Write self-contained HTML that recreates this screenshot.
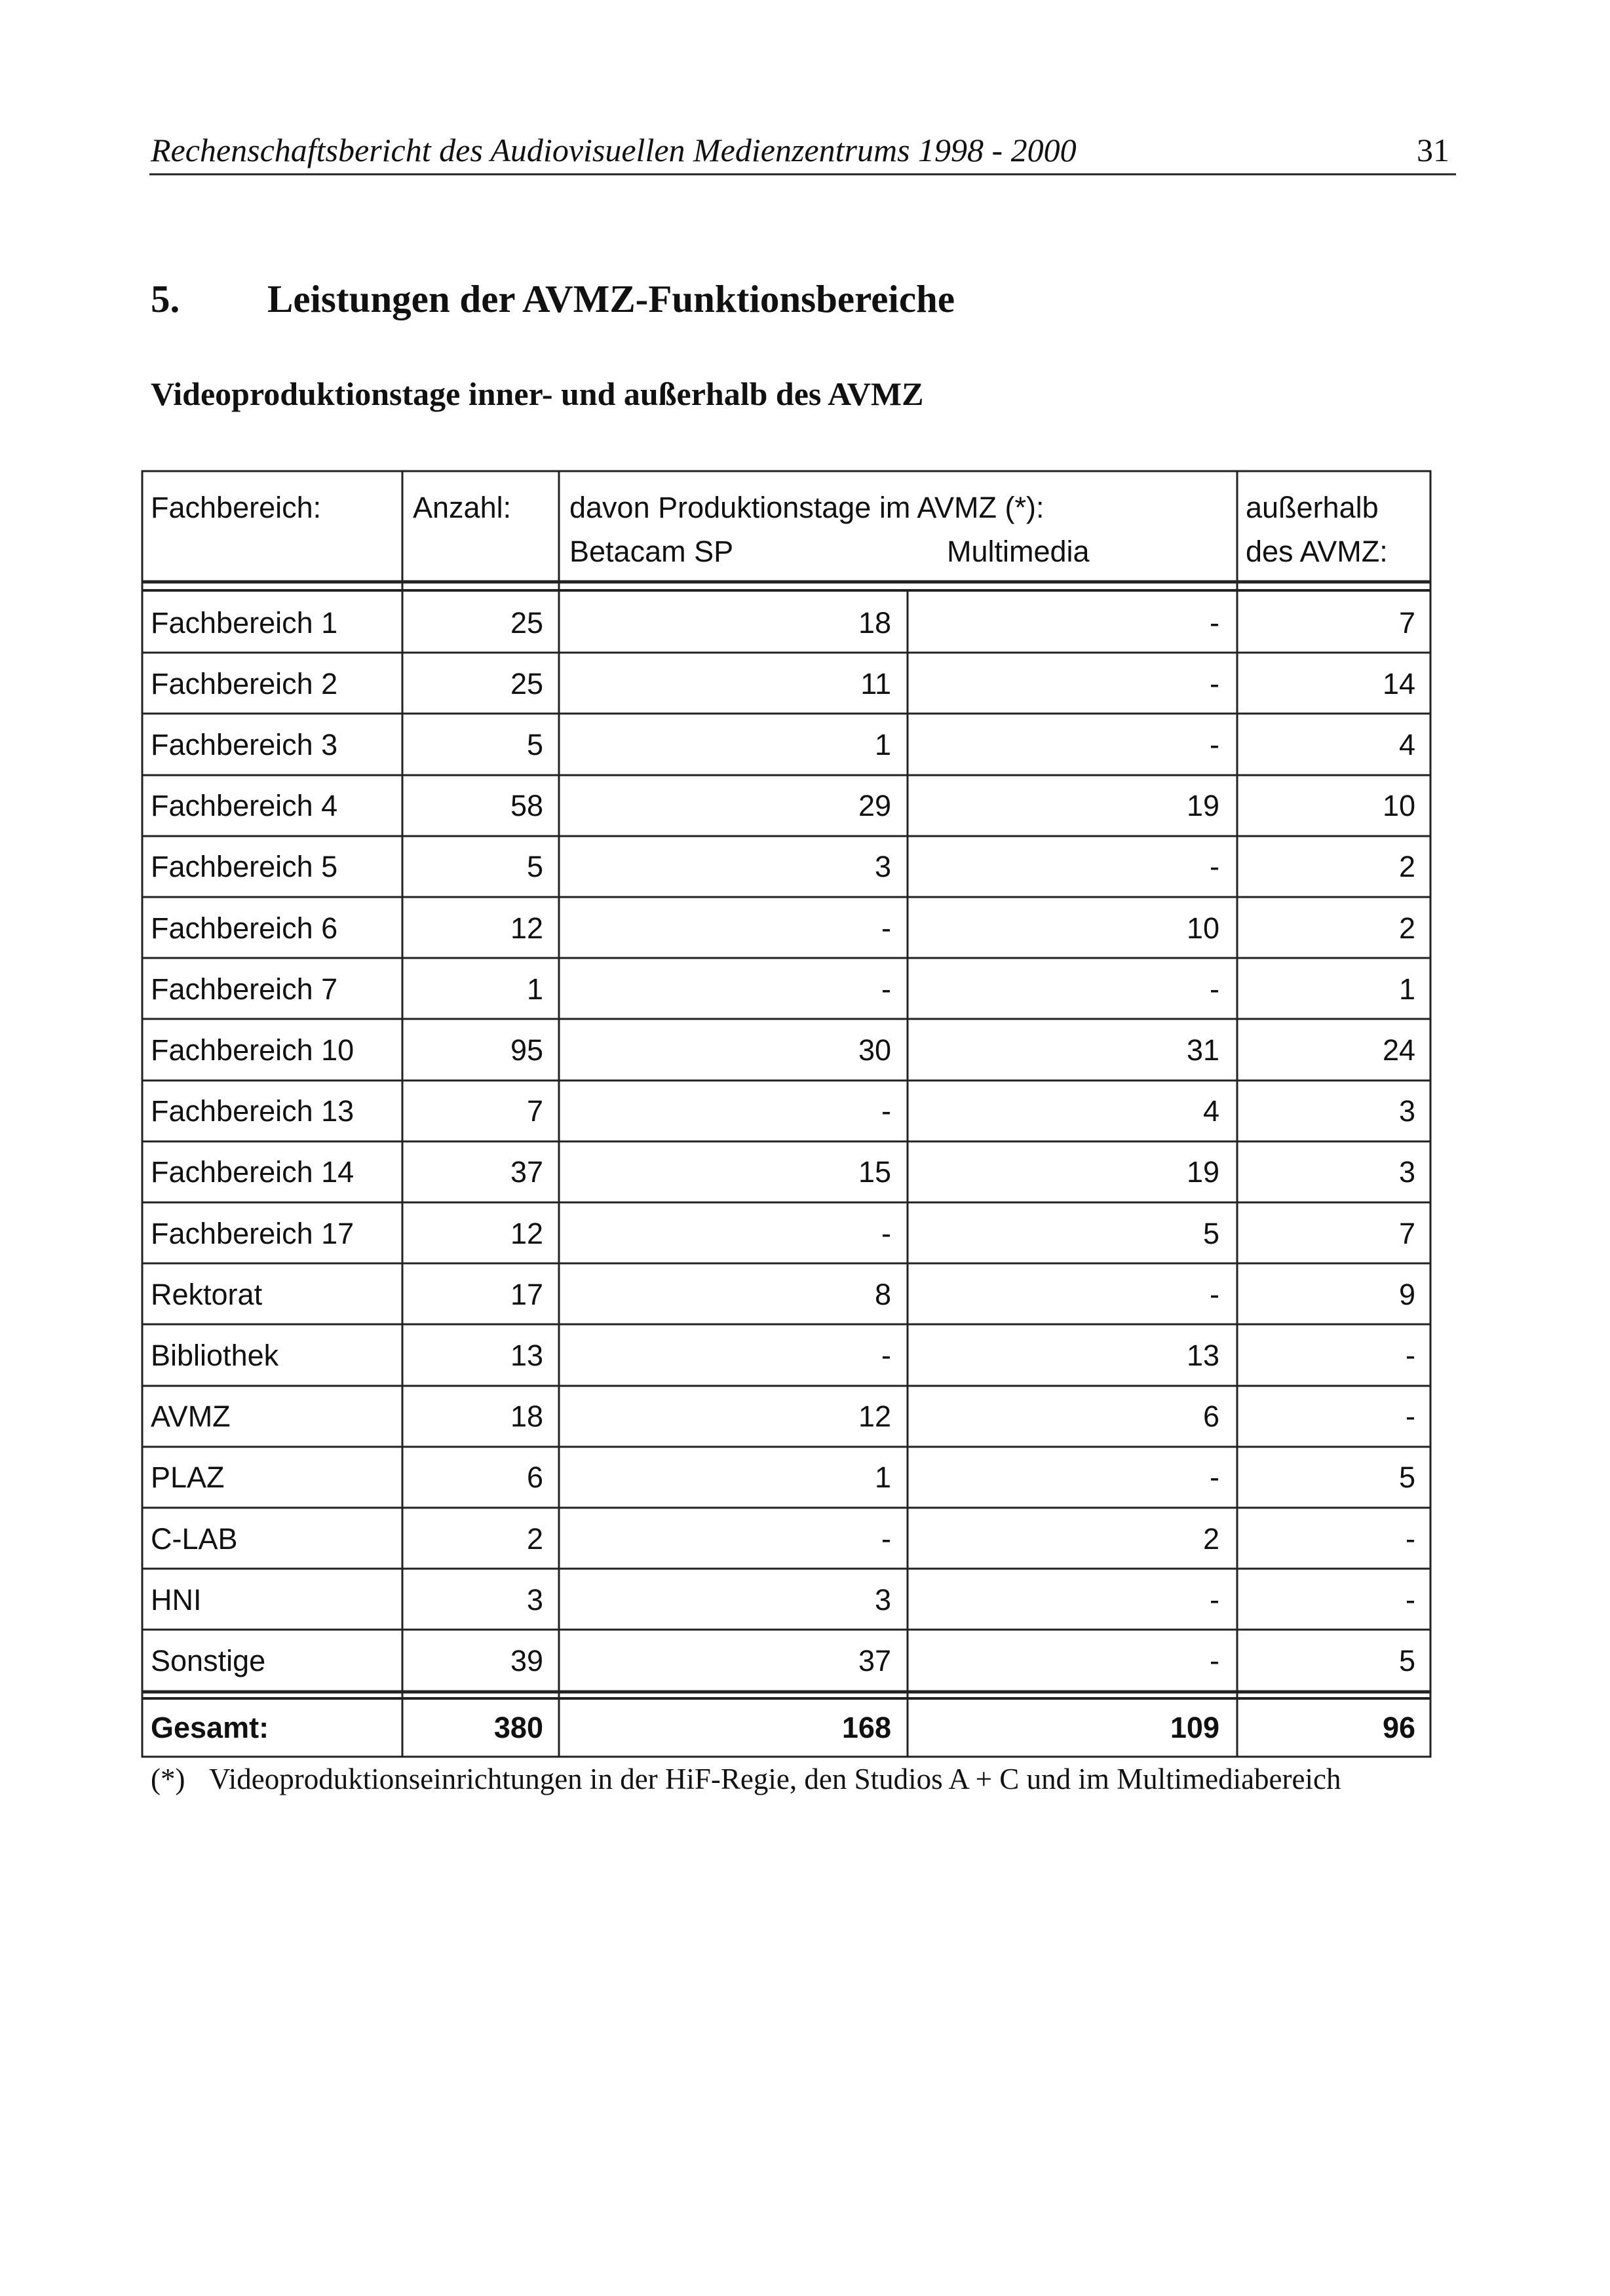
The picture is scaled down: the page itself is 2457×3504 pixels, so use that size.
<!DOCTYPE html>
<html><head><meta charset="utf-8"><style>
html,body{margin:0;padding:0;background:#fff}
svg{display:block}
</style></head><body>
<svg width="2457" height="3504" viewBox="0 0 2457 3504" xmlns="http://www.w3.org/2000/svg">
<rect width="2457" height="3504" fill="#fff"/>
<g font-family="'Liberation Serif',serif" fill="#111">
<text x="230" y="246" font-size="50" font-style="italic">Rechenschaftsbericht des Audiovisuellen Medienzentrums 1998 - 2000</text>
<text x="2212" y="246" font-size="50" text-anchor="end">31</text>
<text x="230" y="476" font-size="59" font-weight="bold">5.</text>
<text x="408" y="476" font-size="59" font-weight="bold">Leistungen der AVMZ-Funktionsbereiche</text>
<text x="230" y="618" font-size="50" font-weight="bold">Videoproduktionstage inner- und außerhalb des AVMZ</text>
<text x="230" y="2730" font-size="45">(*)</text>
<text x="319" y="2730" font-size="45">Videoproduktionseinrichtungen in der HiF-Regie, den Studios A + C und im Multimediabereich</text>
</g>
<line x1="228" y1="266" x2="2222" y2="266" stroke="#222" stroke-width="3"/>
<g stroke="#222" stroke-width="3" fill="none">
<rect x="217" y="719" width="1966" height="1962"/>
<line x1="614" y1="719" x2="614" y2="2681"/>
<line x1="853" y1="719" x2="853" y2="2681"/>
<line x1="1888" y1="719" x2="1888" y2="2681"/>
<line x1="1385" y1="903" x2="1385" y2="2681"/>
<line x1="217" y1="888" x2="2183" y2="888" stroke-width="5"/>
<line x1="217" y1="901" x2="2183" y2="901" stroke-width="4"/>
<line x1="217" y1="2582" x2="2183" y2="2582" stroke-width="5"/>
<line x1="217" y1="2592" x2="2183" y2="2592" stroke-width="4"/>
<path d="M217 996H2183M217 1089H2183M217 1183H2183M217 1276H2183M217 1369H2183M217 1462H2183M217 1555H2183M217 1649H2183M217 1742H2183M217 1835H2183M217 1928H2183M217 2021H2183M217 2115H2183M217 2208H2183M217 2301H2183M217 2394H2183M217 2487H2183"/>
</g>
<g font-family="'Liberation Sans',sans-serif" font-size="45" fill="#111">
<text x="230" y="790">Fachbereich:</text>
<text x="630" y="790">Anzahl:</text>
<text x="869" y="790">davon Produktionstage im AVMZ (*):</text>
<text x="869" y="857">Betacam SP</text>
<text x="1445" y="857">Multimedia</text>
<text x="1901" y="790">außerhalb</text>
<text x="1901" y="857">des AVMZ:</text>

<text x="230" y="966">Fachbereich 1</text>
<text x="230" y="1059">Fachbereich 2</text>
<text x="230" y="1152">Fachbereich 3</text>
<text x="230" y="1245">Fachbereich 4</text>
<text x="230" y="1338">Fachbereich 5</text>
<text x="230" y="1432">Fachbereich 6</text>
<text x="230" y="1525">Fachbereich 7</text>
<text x="230" y="1618">Fachbereich 10</text>
<text x="230" y="1711">Fachbereich 13</text>
<text x="230" y="1804">Fachbereich 14</text>
<text x="230" y="1898">Fachbereich 17</text>
<text x="230" y="1991">Rektorat</text>
<text x="230" y="2084">Bibliothek</text>
<text x="230" y="2177">AVMZ</text>
<text x="230" y="2270">PLAZ</text>
<text x="230" y="2364">C-LAB</text>
<text x="230" y="2457">HNI</text>
<text x="230" y="2550">Sonstige</text>
<text x="230" y="2652" font-weight="bold">Gesamt:</text>

<g text-anchor="end">
<text x="829" y="966">25</text><text x="1360" y="966">18</text><text x="1861" y="966">-</text><text x="2160" y="966">7</text>
<text x="829" y="1059">25</text><text x="1360" y="1059">11</text><text x="1861" y="1059">-</text><text x="2160" y="1059">14</text>
<text x="829" y="1152">5</text><text x="1360" y="1152">1</text><text x="1861" y="1152">-</text><text x="2160" y="1152">4</text>
<text x="829" y="1245">58</text><text x="1360" y="1245">29</text><text x="1861" y="1245">19</text><text x="2160" y="1245">10</text>
<text x="829" y="1338">5</text><text x="1360" y="1338">3</text><text x="1861" y="1338">-</text><text x="2160" y="1338">2</text>
<text x="829" y="1432">12</text><text x="1360" y="1432">-</text><text x="1861" y="1432">10</text><text x="2160" y="1432">2</text>
<text x="829" y="1525">1</text><text x="1360" y="1525">-</text><text x="1861" y="1525">-</text><text x="2160" y="1525">1</text>
<text x="829" y="1618">95</text><text x="1360" y="1618">30</text><text x="1861" y="1618">31</text><text x="2160" y="1618">24</text>
<text x="829" y="1711">7</text><text x="1360" y="1711">-</text><text x="1861" y="1711">4</text><text x="2160" y="1711">3</text>
<text x="829" y="1804">37</text><text x="1360" y="1804">15</text><text x="1861" y="1804">19</text><text x="2160" y="1804">3</text>
<text x="829" y="1898">12</text><text x="1360" y="1898">-</text><text x="1861" y="1898">5</text><text x="2160" y="1898">7</text>
<text x="829" y="1991">17</text><text x="1360" y="1991">8</text><text x="1861" y="1991">-</text><text x="2160" y="1991">9</text>
<text x="829" y="2084">13</text><text x="1360" y="2084">-</text><text x="1861" y="2084">13</text><text x="2160" y="2084">-</text>
<text x="829" y="2177">18</text><text x="1360" y="2177">12</text><text x="1861" y="2177">6</text><text x="2160" y="2177">-</text>
<text x="829" y="2270">6</text><text x="1360" y="2270">1</text><text x="1861" y="2270">-</text><text x="2160" y="2270">5</text>
<text x="829" y="2364">2</text><text x="1360" y="2364">-</text><text x="1861" y="2364">2</text><text x="2160" y="2364">-</text>
<text x="829" y="2457">3</text><text x="1360" y="2457">3</text><text x="1861" y="2457">-</text><text x="2160" y="2457">-</text>
<text x="829" y="2550">39</text><text x="1360" y="2550">37</text><text x="1861" y="2550">-</text><text x="2160" y="2550">5</text>
<g font-weight="bold">
<text x="829" y="2652">380</text><text x="1360" y="2652">168</text><text x="1861" y="2652">109</text><text x="2160" y="2652">96</text>
</g>
</g>
</g>
</svg>
</body></html>
